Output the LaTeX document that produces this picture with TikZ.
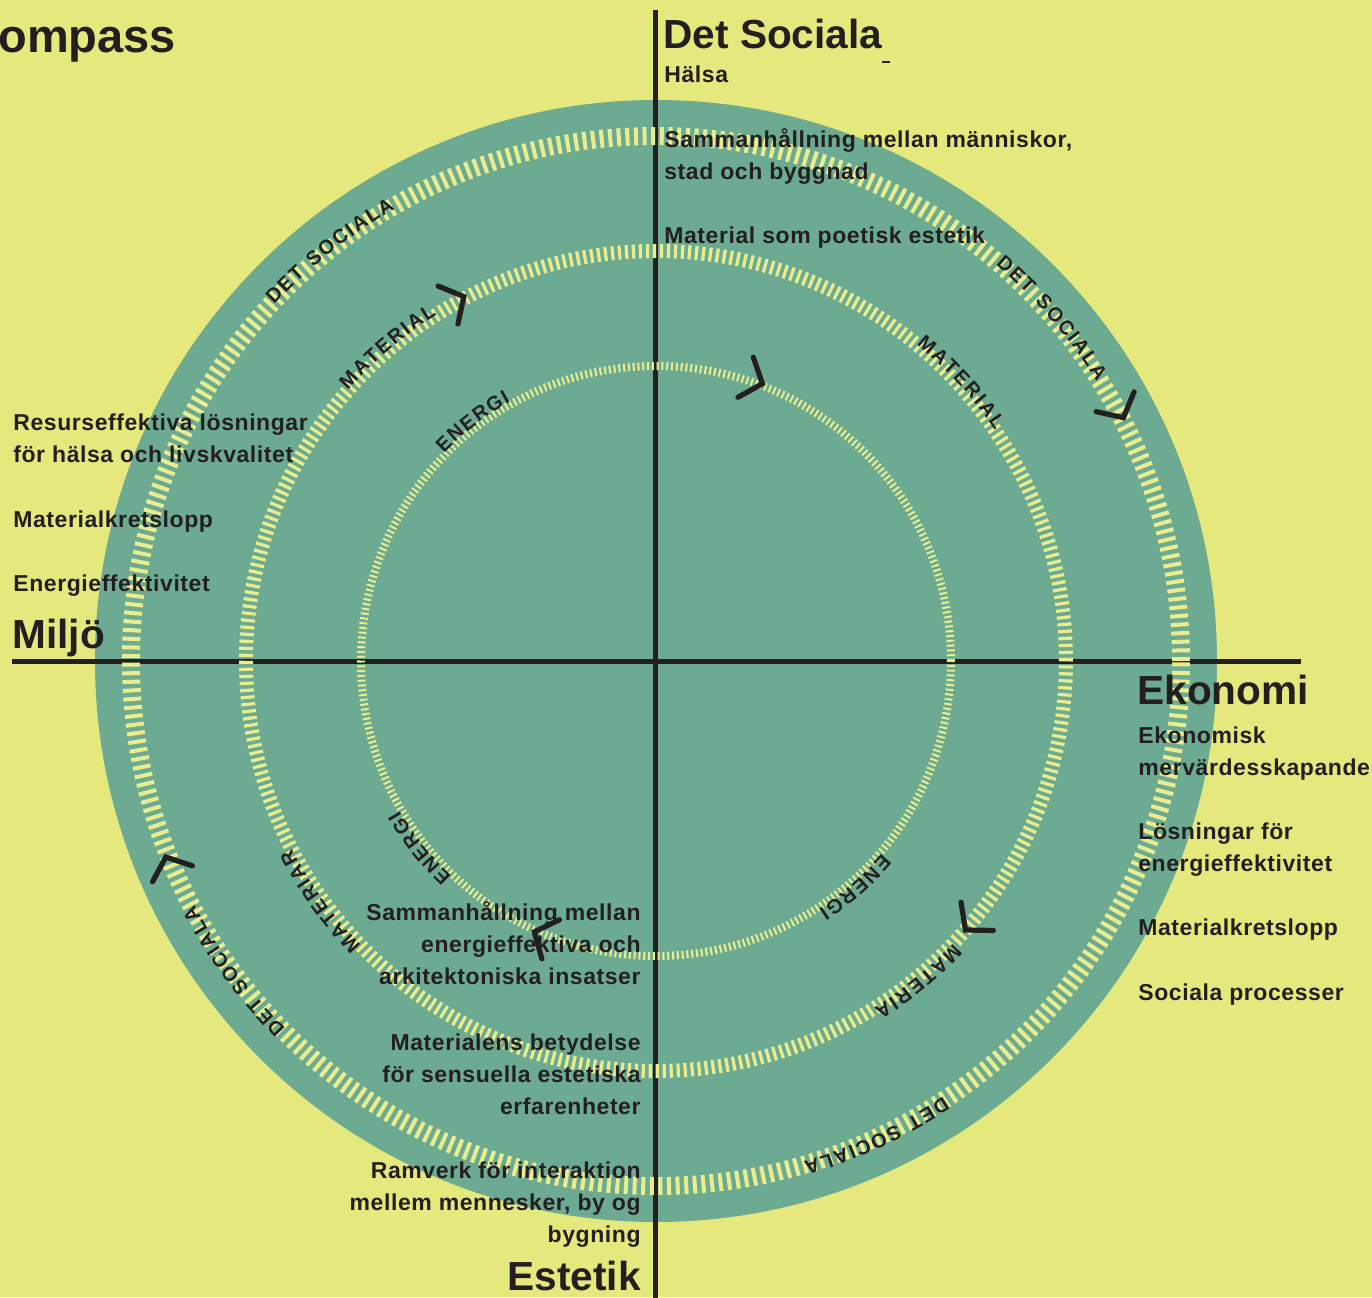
\documentclass[tikz,border=0pt]{standalone}
\usepackage{fontspec}
\setmainfont{Liberation Sans}
\newfontfamily\bodyfont{Liberation Sans}[LetterSpace=2.5]
\usepackage{tikz}

\definecolor{bgyellow}{RGB}{229,232,124}
\definecolor{discgreen}{RGB}{108,170,146}
\definecolor{hatch}{RGB}{233,237,142}
\definecolor{ink}{RGB}{35,31,32}

% letters of a ring label, set clockwise with their tops outward
% #1 name, #2 radius, #3 angle of the first letter's edge, #4 tracking, #5 letter/width pairs
\newcommand\ringlabel[5]{%
  \xdef\ringang{#3}%
  \edef\ringlist{#5}%
  \foreach \ch/\w [count=\k from 0] in \ringlist {
    \pgfmathsetmacro\ang{\ringang-(\w*10)/#2*57.2958}
    \node[ringletter, rotate=\ang-90] (#1-\k) at (\ang:#2) {\ch};
    \pgfmathsetmacro\nextang{\ringang-(\w*20+#4)/#2*57.2958}
    \xdef\ringang{\nextang}
  }}
\newcommand\socword{D/.722,E/.667,T/.611,/.35,S/.667,O/.778,C/.722,I/.278,A/.722,L/.611,A/.722}
\newcommand\matword{M/.833,A/.722,T/.611,E/.667,R/.722,I/.278,A/.722}
\newcommand\enword{E/.667,N/.722,E/.667,R/.722,G/.778,I/.278}
% chevron on a ring, pointing clockwise
\newcommand\chevron[2]{%
  \draw[chev] ([shift={(#1:#2)}]#1+40:28) -- (#1:#2) -- ([shift={(#1:#2)}]#1+140:28);}

\begin{document}
\begin{tikzpicture}[x=0.5pt,y=0.5pt,
    body/.style={font=\bodyfont\fontsize{11.5}{16}\selectfont\bfseries, text=ink, inner sep=0pt, align=left, anchor=base west},
    bodyr/.style={body, align=right, anchor=base east},
    head/.style={font=\fontsize{20.3}{24}\selectfont\bfseries, text=ink, inner sep=0pt, anchor=base west},
    ringletter/.style={font=\fontsize{10}{10}\selectfont\bfseries, text=ink, inner sep=0pt, anchor=base},
    chev/.style={ink, line width=2.6pt, line cap=round, line join=miter},
    axis/.style={ink, line width=2.5pt}]
    \useasboundingbox (-656,-636) rectangle (716,661);
    \fill[bgyellow] (-656,-636) rectangle (716,661);
    \fill[discgreen] (0,0) coordinate (O) circle (561);

    % axes
    \coordinate (top) at (0,651);
    \coordinate (bottom) at (0,-640);
    \coordinate (left) at (-644,0);
    \coordinate (right) at (645,0);
    \draw[axis] (top) -- (bottom);
    \draw[axis] (left) -- (right);

    % hatched rings
    \draw[hatch, line width=9pt, dash pattern=on 2pt off 2.3pt] (O) circle (525);
    \draw[hatch, line width=7pt, dash pattern=on 1.6pt off 1.9pt] (O) circle (410);
    \draw[hatch, line width=4pt, dash pattern=on 1pt off 1.4pt] (O) circle (295);

    % ring labels
    \ringlabel{socTL}{522}{137.0}{1.8}{\socword}
    \ringlabel{socTR}{522}{49.4}{1.8}{\socword}
    \ringlabel{socBR}{522}{-56.6}{1.8}{\socword}
    \ringlabel{socBL}{522}{-135.2}{1.8}{\socword}
    \ringlabel{matTL}{410}{138.7}{2}{\matword,L/.611}
    \ringlabel{matTR}{410}{50.6}{2}{\matword,L/.611}
    \ringlabel{matBR}{410}{-43.5}{2}{\matword}
    \ringlabel{matBL}{410}{-136}{2}{\matword,R/.722}
    \ringlabel{enTL}{297}{135.6}{1.6}{\enword}
    \ringlabel{enBR}{297}{-40.5}{1.6}{\enword}
    \ringlabel{enBL}{297}{-133.5}{1.6}{\enword}

    % chevrons
    \chevron{117.8}{412}
    \chevron{69}{297}
    \chevron{27.5}{527}
    \chevron{-41}{410}
    \chevron{-114.2}{297}
    \chevron{-158.2}{528}

    % headings
    \node[head, font=\fontsize{23.5}{26}\selectfont\bfseries] (title) at (-658,608) {ompass};
    \node[head] (social) at (7,612) {Det Sociala};
    \draw[ink, line width=0.8pt] (226,599) -- (234,599);
    \node[head] (miljo) at (-644,13) {Miljö};
    \node[head] (ekonomi) at (481,-43) {Ekonomi};
    \node[head, anchor=base east] (estetik) at (-15,-629) {Estetik};

    % det sociala
    \node[body] (halsa) at (8,578) {Hälsa};
    \node[body] (samman) at (8,481) {Sammanhållning mellan människor,\\stad och byggnad};
    \node[body] (poetisk) at (8,417) {Material som poetisk estetik};

    % miljö
    \node[body] (resurs) at (-643,199) {Resurseffektiva lösningar\\för hälsa och livskvalitet};
    \node[body] (kretsL) at (-643,134) {Materialkretslopp};
    \node[body] (energiL) at (-643,70) {Energieffektivitet};

    % ekonomi
    \node[body] (merv) at (482,-114) {Ekonomisk\\mervärdesskapande};
    \node[body] (losn) at (482,-210) {Lösningar för\\energieffektivitet};
    \node[body] (kretsR) at (482,-274) {Materialkretslopp};
    \node[body] (proc) at (482,-339) {Sociala processer};

    % estetik
    \node[bodyr] (insats) at (-15,-323) {Sammanhållning mellan\\energieffektiva och\\arkitektoniska insatser};
    \node[bodyr] (sensuell) at (-15,-453) {Materialens betydelse\\för sensuella estetiska\\erfarenheter};
    \node[bodyr] (ramverk) at (-15,-581) {Ramverk för interaktion\\mellem mennesker, by og\\bygning};
\end{tikzpicture}
\end{document}
